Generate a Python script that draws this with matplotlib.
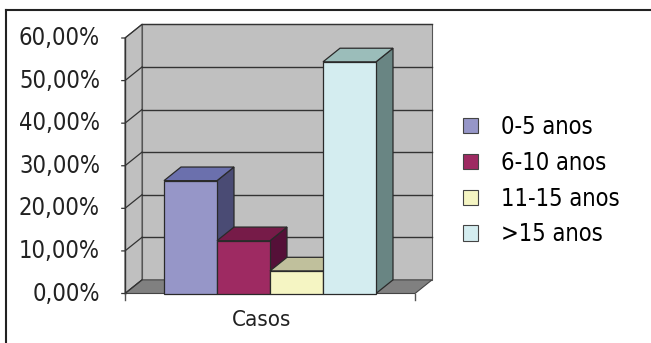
import matplotlib
matplotlib.use("Agg")
import matplotlib.pyplot as plt
from matplotlib.patches import Polygon, Patch
from matplotlib import font_manager
from matplotlib.font_manager import FontProperties

# ---- data ----
categories = ["0-5 anos", "6-10 anos", "11-15 anos", ">15 anos"]
values = [26.5, 12.4, 5.3, 54.4]
group_label = "Casos"
yticks = [0, 10, 20, 30, 40, 50, 60]
ytick_labels = ["0,00%", "10,00%", "20,00%", "30,00%", "40,00%", "50,00%", "60,00%"]

# ---- style ----
front_cols = ["#9696c8", "#9e2a62", "#f5f5c3", "#d4edf0"]
top_cols = ["#6b70ad", "#761b48", "#c0c09c", "#9bbdba"]
side_cols = ["#4a4b74", "#551038", "#8a8a70", "#698583"]
wall_col = "#c0c0c0"
floor_col = "#808080"
edge_col = "#2a2a2a"

# find a condensed font file if available
files = [f.fname for f in font_manager.fontManager.ttflist]
cand = None
for key in ["LiberationSansNarrow-Regular", "DejaVuSansCondensed.ttf", "RobotoCondensed-Regular", "OpenSans_Condensed-Regular", "OpenSansCondensed"]:
    for fn in files:
        if key in fn:
            cand = fn
            break
    if cand:
        break
if cand:
    fp = FontProperties(fname=cand)
    narrow = True
else:
    fp = FontProperties(family="Liberation Sans")
    narrow = False

W, H = 651, 343
fig = plt.figure(figsize=(W / 100, H / 100), dpi=100)
fig.patch.set_facecolor("white")

# outer frame (top and left lines)
fig.add_artist(plt.Line2D([6 / W, 1], [1 - 9.5 / H, 1 - 9.5 / H], color="#222222", lw=1.5))
fig.add_artist(plt.Line2D([6 / W, 6 / W], [0, 1 - 9.5 / H], color="#222222", lw=1.5))

ax_l, ax_r, ax_b, ax_t = 125, 415, 293.5, 38
ax = fig.add_axes([ax_l / W, 1 - ax_b / H, (ax_r - ax_l) / W, (ax_b - ax_t) / H])
ax.axis("off")
ymax = 60
xmin, xmax = -39 / 53, (290 - 39) / 53
ax.set_xlim(xmin, xmax)
ax.set_ylim(0, ymax)

DX, DY = 17 / 53, 3.2  # depth offsets (style)

def poly(pts, fc, ec=edge_col, lw=0.9, z=1):
    p = Polygon(pts, closed=True, facecolor=fc, edgecolor=ec, linewidth=lw, zorder=z, clip_on=False)
    ax.add_patch(p)

# back wall
poly([(xmin + DX, DY), (xmax + DX, DY), (xmax + DX, ymax + DY), (xmin + DX, ymax + DY)], wall_col, ec="#555555", lw=0.8)
# left wall
poly([(xmin, 0), (xmin + DX, DY), (xmin + DX, ymax + DY), (xmin, ymax)], wall_col, ec="#555555", lw=0.8)
# floor
poly([(xmin, 0), (xmax, 0), (xmax + DX, DY), (xmin + DX, DY)], floor_col, ec="#444444", lw=0.8)

# gridlines
for v in yticks[1:]:
    ax.plot([xmin + DX, xmax + DX], [v + DY, v + DY], color="#333333", lw=1.0, zorder=2, clip_on=False)
for v in yticks:
    ax.plot([xmin - 0.06, xmin, xmin + DX], [v - 0.0, v, v + DY], color="#333333", lw=0.9, zorder=2, clip_on=False)
# front axis line
ax.plot([xmin, xmin], [0, ymax], color="#333333", lw=1.0, zorder=2, clip_on=False)
# category ticks
for xv in [xmin, xmax]:
    ax.plot([xv, xv], [0, -1.6], color="#555555", lw=1.0, zorder=2, clip_on=False)

# bars
for i, v in enumerate(values):
    x0, x1 = i, i + 1
    z = 3 + i
    poly([(x1, 0), (x1 + DX, DY), (x1 + DX, v + DY), (x1, v)], side_cols[i], z=z)
    poly([(x0, v), (x1, v), (x1 + DX, v + DY), (x0 + DX, v + DY)], top_cols[i], z=z)
    poly([(x0, 0), (x1, 0), (x1, v), (x0, v)], front_cols[i], z=z + 0.5)

fs_big = 17 if narrow else 16
fs_small = 16 if narrow else 14

# y tick labels
for v, lab in zip(yticks, ytick_labels):
    ax.annotate(lab, xy=(xmin, v), xycoords="data", xytext=(-25, 0), textcoords="offset pixels",
                ha="right", va="center", fontproperties=fp, fontsize=fs_big, color="#222222")

# category label
ax.text((262 - ax_l) / (ax_r - ax_l), (ax_b - 320) / (ax_b - ax_t), group_label,
        transform=ax.transAxes, ha="center", va="center", fontproperties=fp, fontsize=fs_small, color="#222222")

handles = [Patch(facecolor=c, edgecolor="#444444", linewidth=0.8) for c in front_cols]
lp = fp.copy()
lp.set_size(fs_big)
fig.legend(handles, categories, loc="upper left", bbox_to_anchor=(463 / W, 1 - 115 / H),
           frameon=False, prop=lp, handlelength=0.62, handleheight=0.62,
           handletextpad=1.0, labelspacing=0.5, borderaxespad=0, borderpad=0)

fig.savefig("out.png", dpi=100, facecolor="white")
